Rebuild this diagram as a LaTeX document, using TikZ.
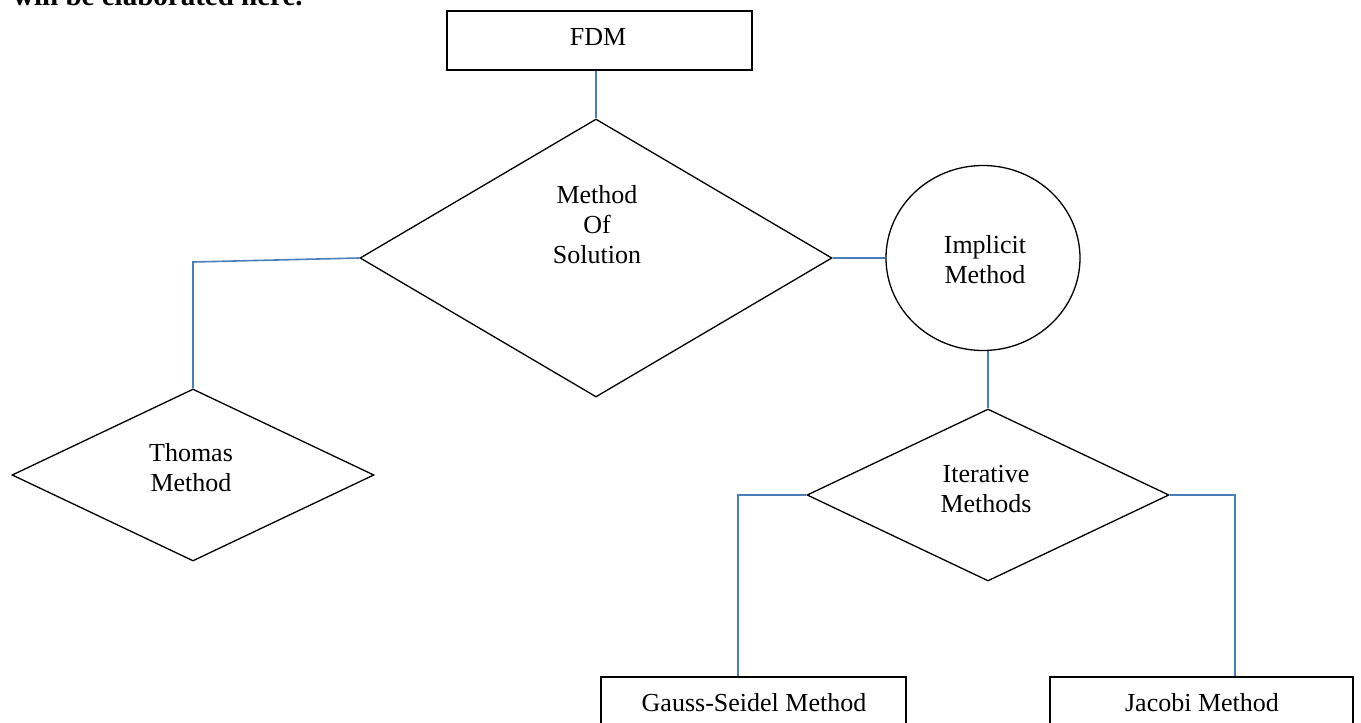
\documentclass[tikz,border=0pt]{standalone}
\usepackage{fontspec}
\setmainfont{Liberation Serif}
\usetikzlibrary{shapes.geometric,calc}
\definecolor{linkblue}{HTML}{4A7EBB}
\tikzset{
  shapebox/.style={draw=black, line width=1.3pt, fill=none, inner sep=0pt},
  boxnode/.style={shapebox, rectangle},
  dianode/.style={shapebox, diamond},
  ellnode/.style={shapebox, ellipse},
  lbl/.style={inner sep=0pt, align=center, font=\fontsize{26}{30}\selectfont},
  link/.style={draw=linkblue, line width=1.6pt}
}
\begin{document}
\begin{tikzpicture}[x=1pt,y=-1pt]
\useasboundingbox (0,0) rectangle (1361,723);
\clip (0,0) rectangle (1361,723);
% cut-off text line at the top
\node[anchor=base west, inner sep=0pt, font=\fontsize{29}{34}\selectfont\bfseries] (toptext) at (13,5) {will be elaborated here.};
% shapes
\node[boxnode, minimum width=305pt, minimum height=59pt] (fdm) at (599.5,40.5) {};
\node[dianode, minimum width=472pt, minimum height=278pt] (meth) at (596,258) {};
\node[ellnode, minimum width=194pt, minimum height=185pt] (imp) at (983,258) {};
\node[dianode, minimum width=362pt, minimum height=172pt] (iter) at (988,495) {};
\node[dianode, minimum width=362pt, minimum height=172pt] (thom) at (193,475) {};
\node[boxnode, minimum width=305pt, minimum height=80pt] (gauss) at (753.5,717) {};
\node[boxnode, minimum width=303pt, minimum height=80pt] (jac) at (1201.5,717) {};
% labels
\node[lbl] (fdmt) at (598,37.5) {FDM};
\node[lbl] (metht) at (597,225) {Method\\Of\\Solution};
\node[lbl] (impt) at (985,260) {Implicit\\Method};
\node[lbl] (itert) at (986,489.5) {Iterative\\Methods};
\node[lbl] (thomt) at (191,468) {Thomas\\Method};
\node[lbl] (gausst) at (754,702.5) {Gauss-Seidel Method};
\node[lbl] (jact) at (1202,702.5) {Jacobi Method};
% corner coordinates
\coordinate (tc) at (193,262);
\coordinate (gc) at (738,495);
\coordinate (jc) at (1235,495);
% connectors
\draw[link] (meth.north |- fdm.south) -- (meth.north);
\draw[link] (meth.east) -- (imp.west);
\draw[link] (iter.north |- imp.south) -- (iter.north);
\draw[link] (meth.west) -- (tc) -- (thom.north);
\draw[link] (iter.west) -- (gc) -- (gc |- gauss.north);
\draw[link] (iter.east) -- (jc) -- (jc |- jac.north);
\end{tikzpicture}
\end{document}
